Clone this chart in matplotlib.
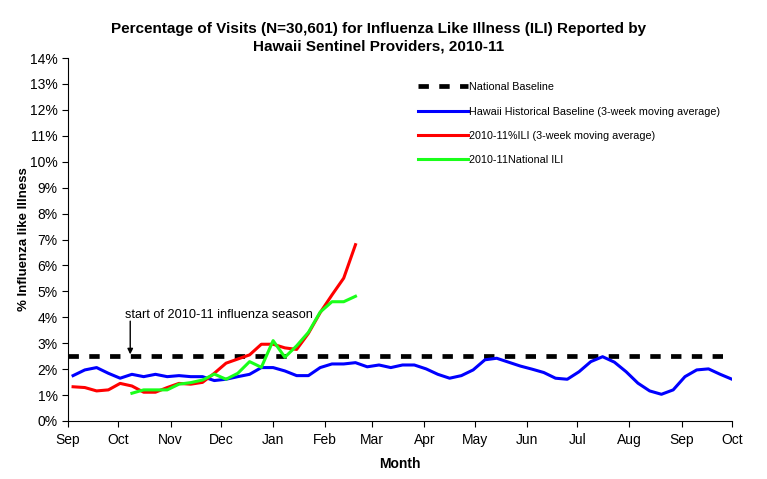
import pandas as pd
import matplotlib
matplotlib.use('Agg')
import matplotlib.pyplot as plt
import matplotlib.dates as mdates

plt.rcParams['font.family'] = ['Liberation Sans', 'DejaVu Sans']

# Weekly data points (MMWR week ending dates)
weeks = pd.date_range('2010-09-04', periods=57, freq='7D')

# Hawaii historical baseline (3-week moving average), whole year
hawaii_base = [1.75, 1.97, 2.06, 1.84, 1.65, 1.80, 1.71, 1.80, 1.71, 1.75,
               1.71, 1.71, 1.56, 1.61, 1.71, 1.80, 2.06, 2.06, 1.93, 1.75,
               1.75, 2.06, 2.20, 2.20, 2.25, 2.09, 2.16, 2.06, 2.16, 2.16,
               2.01, 1.80, 1.65, 1.75, 1.97, 2.36, 2.42, 2.27, 2.12, 2.00,
               1.87, 1.65, 1.61, 1.90, 2.29, 2.48, 2.27, 1.90, 1.46, 1.16,
               1.03, 1.20, 1.71, 1.97, 2.01, 1.80, 1.61]

# 2010-11 Hawaii %ILI (3-week moving average), weeks 0..24
hawaii_ili = [1.32, 1.29, 1.16, 1.20, 1.45, 1.35, 1.11, 1.11, 1.29, 1.45,
              1.42, 1.49, 1.84, 2.23, 2.39, 2.55, 2.96, 2.96, 2.82, 2.76,
              3.38, 4.18, 4.86, 5.51, 6.80]

# 2010-11 national ILI, weeks 5..24
national_ili = [1.07, 1.20, 1.20, 1.20, 1.42, 1.48, 1.58, 1.81, 1.61, 1.84,
                2.29, 2.07, 3.10, 2.46, 2.90, 3.42, 4.20, 4.60, 4.60, 4.81]

national_baseline = 2.5

fig = plt.figure(figsize=(7.67, 4.79), dpi=100)
ax = fig.add_axes([0.0887, 0.1211, 0.8657, 0.7578])

ax.axhline(national_baseline, color='black', lw=3.4, dashes=(2.2, 2.2),
           label='National Baseline')
ax.plot(weeks, hawaii_base, color='#0000ff', lw=2.2,
        label='Hawaii Historical Baseline (3-week moving average)')
ax.plot(weeks[:len(hawaii_ili)], hawaii_ili, color='#ff0000', lw=2.2,
        label='2010-11%ILI (3-week moving average)')
ax.plot(weeks[5:5 + len(national_ili)], national_ili, color='#1aff1a', lw=2.2,
        label='2010-11National ILI')

# season start annotation
ax.text(pd.Timestamp('2010-10-05'), 4.1, 'start of 2010-11 influenza season',
        fontsize=9.2, va='center', ha='left')
ax.annotate('', xy=(pd.Timestamp('2010-10-08'), 2.57),
            xytext=(pd.Timestamp('2010-10-08'), 3.85),
            arrowprops=dict(arrowstyle='-|>', color='black', lw=1,
                            mutation_scale=8, shrinkA=0, shrinkB=0))

ax.set_xlim(pd.Timestamp('2010-09-01'), pd.Timestamp('2011-10-01'))
ax.set_ylim(0, 14)
ax.set_yticks(range(0, 15))
ax.set_yticklabels([f'{v}%' for v in range(0, 15)])
ax.xaxis.set_major_locator(mdates.MonthLocator())
ax.xaxis.set_major_formatter(mdates.DateFormatter('%b'))
ax.tick_params(labelsize=10, direction='out', length=4.5, width=0.8, pad=3)
ax.tick_params(axis='x', length=4, pad=5)

for side in ['top', 'right']:
    ax.spines[side].set_visible(False)

ax.set_xlabel('Month', fontsize=10, fontweight='bold', labelpad=7)
ax.set_ylabel('% Influenza like Illness', fontsize=9.5, fontweight='bold', labelpad=0)

fig.suptitle('Percentage of Visits (N=30,601) for Influenza Like Illness (ILI) Reported by\n'
             'Hawaii Sentinel Providers, 2010-11',
             x=0.493, y=0.955, fontsize=11, fontweight='bold', linespacing=1.35)

ax.legend(loc='upper left', bbox_to_anchor=(0.513, 0.96), frameon=False,
          fontsize=7.75, handlelength=4.6, handletextpad=0.1, labelspacing=1.33)

fig.savefig('out.png', dpi=100)
